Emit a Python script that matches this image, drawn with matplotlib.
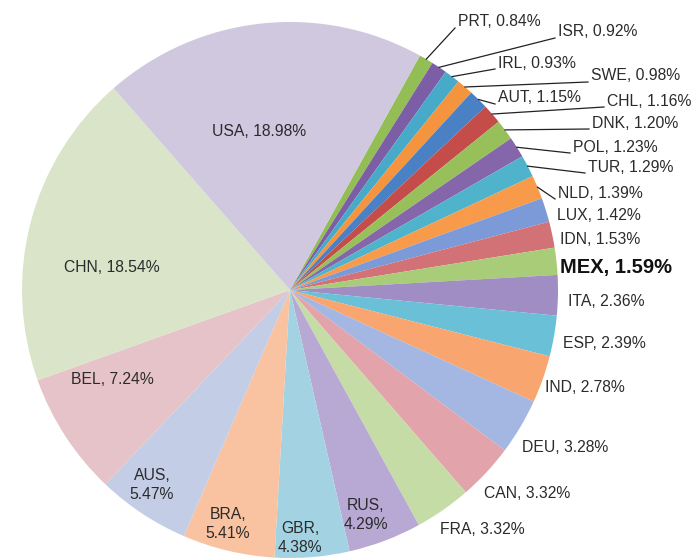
import matplotlib
matplotlib.use("Agg")
import matplotlib.pyplot as plt
import numpy as np

# Country shares, listed clockwise starting just right of 12 o'clock
countries = ["PRT", "ISR", "IRL", "SWE", "AUT", "CHL", "DNK", "POL", "TUR", "NLD",
             "LUX", "IDN", "MEX", "ITA", "ESP", "IND", "DEU", "CAN", "FRA", "RUS",
             "GBR", "BRA", "AUS", "BEL", "CHN", "USA"]
shares = [0.84, 0.92, 0.93, 0.98, 1.15, 1.16, 1.20, 1.23, 1.29, 1.39,
          1.42, 1.53, 1.59, 2.36, 2.39, 2.78, 3.28, 3.32, 3.32, 4.29,
          4.38, 5.41, 5.47, 7.24, 18.54, 18.98]
highlight = "MEX"

colors = ["#93bd55", "#7b5ea6", "#46aac8", "#f5943f", "#4a80c4", "#c44d4a",
          "#98c05a", "#8566ab", "#4fb3cc", "#f79a4a", "#7c9ad8", "#d27277",
          "#a8cc78", "#9f8dc3", "#6ac0d6", "#f8a56f", "#a4b6e2", "#e2a4aa",
          "#c6dca6", "#b8a9d4", "#a3d3e2", "#f9c2a1", "#c4cde6", "#e6c3c9",
          "#d9e4c9", "#cfc8df"]

# Label layout in pixel units (origin top-left): x, y, alignment, leader line, two lines
label_layout = {
    "USA": (259, 132, "center", False, False),
    "CHN": (112, 267, "center", False, False),
    "BEL": (112, 380, "center", False, False),
    "AUS": (152, 485, "center", False, True),
    "BRA": (228, 524, "center", False, True),
    "GBR": (300, 538, "center", False, True),
    "RUS": (366, 515, "center", False, True),
    "FRA": (440, 530, "left", False, False),
    "CAN": (484, 494, "left", False, False),
    "DEU": (522, 448, "left", False, False),
    "IND": (545, 388, "left", False, False),
    "ESP": (563, 344, "left", False, False),
    "ITA": (568, 301, "left", False, False),
    "MEX": (560, 267, "left", False, False),
    "IDN": (560, 240, "left", False, False),
    "LUX": (557, 215, "left", False, False),
    "NLD": (558, 193, "left", True, False),
    "TUR": (588, 167, "left", True, False),
    "POL": (573, 147, "left", True, False),
    "DNK": (592, 123, "left", True, False),
    "CHL": (607, 101, "left", True, False),
    "AUT": (498, 98, "left", True, False),
    "SWE": (591, 76, "left", True, False),
    "IRL": (498, 63, "left", True, False),
    "ISR": (558, 32, "left", True, False),
    "PRT": (458, 22, "left", True, False),
}

W, H = 698, 560
CX, CY, R = 290, 290, 268

plt.rcParams["font.family"] = ["Liberation Sans", "DejaVu Sans"]

fig = plt.figure(figsize=(W / 100, H / 100), dpi=100)
ax = fig.add_axes([0, 0, 1, 1])


def to_data(x, y):
    return x, H - y


wedges, _ = ax.pie(shares, colors=colors, startangle=61, counterclock=False,
                   center=to_data(CX, CY), radius=R, frame=True,
                   wedgeprops=dict(linewidth=0))
ax.set_xlim(0, W)
ax.set_ylim(0, H)
ax.set_aspect("equal")
ax.axis("off")

text_color = "#2b2b2b"
for name, val, w in zip(countries, shares, wedges):
    x, y, ha, leader, two_line = label_layout[name]
    sep = ",\n" if two_line else ", "
    label = f"{name}{sep}{val:.2f}%"
    bold = name == highlight
    tx, ty = to_data(x, y)
    ax.text(tx, ty, label, ha=ha, va="center", multialignment="center",
            fontsize=14.5 if bold else 11.3,
            fontweight="bold" if bold else "normal",
            color="#111111" if bold else text_color,
            linespacing=1.3 if two_line else 1.0)
    if leader:
        theta = np.deg2rad((w.theta1 + w.theta2) / 2)
        cx, cy = to_data(CX, CY)
        ex, ey = cx + R * np.cos(theta), cy + R * np.sin(theta)
        sx, sy = to_data(x - 3, y + 6)
        ax.plot([sx, ex], [sy, ey], color="#222222", lw=0.9)

fig.savefig("out.png", dpi=100)
